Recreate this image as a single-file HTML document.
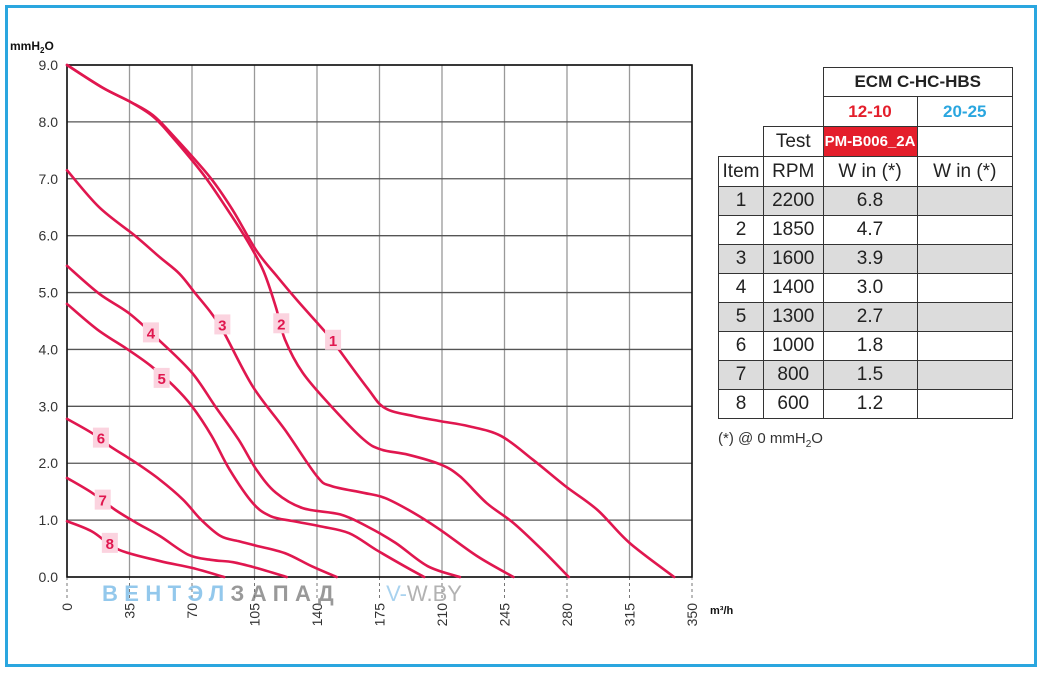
<!DOCTYPE html>
<html><head><meta charset="utf-8"><style>
body{margin:0;background:#fff;width:1042px;height:673px;overflow:hidden;font-family:"Liberation Sans",sans-serif;}
#frame{position:absolute;left:5px;top:5px;width:1026px;height:656px;border:3px solid #2aa6df;}
table{position:absolute;border-collapse:collapse;font-family:"Liberation Sans",sans-serif;}
td{border:1.5px solid #333;text-align:center;font-size:19px;color:#222;padding:0;height:28px;}
</style></head><body>
<div id="frame"></div>
<svg id="chart" width="1042" height="673" style="position:absolute;left:0;top:0"></svg>
<div style="position:absolute;left:718px;top:67px">
<table style="left:0;top:0;width:295px">
<tr style="height:28px"><td style="border:none;width:45px"></td><td style="border:none;width:59px"></td><td colspan="2" style="font-weight:bold;font-size:17px">ECM C-HC-HBS</td></tr>
<tr style="height:30px"><td style="border:none"></td><td style="border:none"></td><td style="width:93px;color:#e41e2b;font-weight:bold;font-size:17px">12-10</td><td style="color:#2aa6df;font-weight:bold;font-size:17px">20-25</td></tr>
<tr style="height:30px"><td style="border:none;border-bottom:1.5px solid #333"></td><td>Test</td><td style="background:#e41e2b;color:#fff;font-weight:bold;font-size:15px">PM-B006_2A</td><td></td></tr>
<tr style="height:30px"><td>Item</td><td>RPM</td><td>W in (*)</td><td>W in (*)</td></tr>
<tr style="background:#dcdcdc"><td>1</td><td>2200</td><td>6.8</td><td></td></tr>
<tr><td>2</td><td>1850</td><td>4.7</td><td></td></tr>
<tr style="background:#dcdcdc"><td>3</td><td>1600</td><td>3.9</td><td></td></tr>
<tr><td>4</td><td>1400</td><td>3.0</td><td></td></tr>
<tr style="background:#dcdcdc"><td>5</td><td>1300</td><td>2.7</td><td></td></tr>
<tr><td>6</td><td>1000</td><td>1.8</td><td></td></tr>
<tr style="background:#dcdcdc"><td>7</td><td>800</td><td>1.5</td><td></td></tr>
<tr><td>8</td><td>600</td><td>1.2</td><td></td></tr>
</table>
</div>
<div style="position:absolute;left:718px;top:430px;font-size:15px;color:#333">(*) @ 0 mmH<sub style="font-size:10px">2</sub>O</div>
<div style="position:absolute;left:102px;top:581px;font-size:22px;font-weight:bold;letter-spacing:6.4px;opacity:0.75;white-space:nowrap"><span style="color:#6fb6e6">ВЕНТЭЛ</span><span style="color:#777">ЗАПАД</span><span style="color:#8cc4ea;font-weight:normal;letter-spacing:0;margin-left:46px">V-</span><span style="color:#999;font-weight:normal;letter-spacing:0">W.BY</span></div>
<script>
const xTicks=[0,35,70,105,140,175,210,245,280,315,350];
const yTicks=[0,1,2,3,4,5,6,7,8,9];
const c1x=[0,20,35,48,60,80,93,106,118,129,144,148,168,178,194,209,225,243,261,279,297,315,340];
const c1y=[9.0,8.6,8.36,8.12,7.74,7.03,6.44,5.74,5.27,4.86,4.33,4.18,3.33,2.97,2.83,2.74,2.65,2.48,2.06,1.6,1.18,0.6,0];
const c2x=[0,20,35,48,58,76,89,101,110,117,122,132,148,166,176,191,209,220,235,250,266,281];
const c2y=[9.0,8.6,8.36,8.1,7.77,7.09,6.5,5.91,5.38,4.74,4.18,3.59,3.0,2.42,2.24,2.15,1.98,1.77,1.3,0.95,0.48,0];
const c3x=[0,18,38,52,63,72,81,88,104,122,140,148,166,178,194,209,230,250];
const c3y=[7.15,6.5,6.0,5.62,5.33,4.98,4.63,4.29,3.35,2.59,1.77,1.6,1.48,1.39,1.13,0.83,0.36,0];
const c4x=[0,18,35,52,70,83,96,106,117,132,153,168,184,202,220];
const c4y=[5.47,4.98,4.63,4.15,3.59,3.0,2.42,1.89,1.48,1.21,1.1,0.89,0.6,0.19,0];
const c5x=[0,17,34,47,60,70,81,91,104,114,127,142,158,173,189,200];
const c5y=[4.8,4.35,4.0,3.71,3.35,3.0,2.48,1.89,1.3,1.07,0.98,0.89,0.77,0.48,0.19,0];
const c6x=[0,14,24,39,52,65,75,86,96,106,122,137,151];
const c6y=[2.78,2.53,2.3,2.0,1.71,1.36,1.01,0.72,0.63,0.55,0.42,0.19,0];
const c7x=[0,14,27,39,52,68,81,93,106,123];
const c7y=[1.74,1.48,1.18,0.95,0.72,0.39,0.3,0.26,0.16,0];
const c8x=[0,14,29,52,70,88];
const c8y=[0.98,0.8,0.48,0.28,0.16,0];
const seriesX=[c1x,c2x,c3x,c4x,c5x,c6x,c7x,c8x];
const seriesY=[c1y,c2y,c3y,c4y,c5y,c6y,c7y,c8y];
const labelNames=["1","2","3","4","5","6","7","8"];
const labelX=[149,120,87,47,53,19,20,24];
const labelY=[4.17,4.46,4.44,4.3,3.5,2.45,1.36,0.6];
const X0=67,X1=692,Y0=577,Y1=65;
const sx=v=>X0+v/350*(X1-X0), sy=v=>Y0-v/9*(Y0-Y1);
const svg=document.getElementById('chart');const NS='http://www.w3.org/2000/svg';
function mk(t,a,txt){const e=document.createElementNS(NS,t);for(const k in a)e.setAttribute(k,a[k]);if(txt!=null)e.textContent=txt;svg.appendChild(e);return e;}
function smooth(P){let d='M'+P[0][0]+','+P[0][1];for(let i=0;i<P.length-1;i++){const p0=P[Math.max(0,i-1)],p1=P[i],p2=P[i+1],p3=P[Math.min(P.length-1,i+2)];
 const c1=[p1[0]+(p2[0]-p0[0])/6,p1[1]+(p2[1]-p0[1])/6],c2=[p2[0]-(p3[0]-p1[0])/6,p2[1]-(p3[1]-p1[1])/6];
 d+=` C${c1[0]},${c1[1]} ${c2[0]},${c2[1]} ${p2[0]},${p2[1]}`;}return d;}
xTicks.forEach(v=>{const x=sx(v);
 const g=mk('line',{x1:x,x2:x,y1:Y1,y2:Y0,stroke:'#999','stroke-width':1.3});
 
 const d=mk('line',{x1:x,x2:x,y1:Y0,y2:Y0+22,stroke:'#777','stroke-width':1,'stroke-dasharray':'3,3'});
 
 const t=mk('text',{x:0,y:0,transform:`translate(${x+5},${Y0+26}) rotate(-90)`,'text-anchor':'end','font-size':14,fill:'#333'},String(v));
 });
yTicks.forEach(v=>{const y=sy(v);
 const g=mk('line',{x1:X0,x2:X1,y1:y,y2:y,stroke:'#555','stroke-width':1.3});
 
 const t=mk('text',{x:58,y:y+5,'text-anchor':'end','font-size':14,fill:'#333'},v.toFixed(1));
 });
const b=mk('rect',{x:X0,y:Y1,width:X1-X0,height:Y0-Y1,fill:'none',stroke:'#111','stroke-width':1.6});

const yt=mk('text',{x:10,y:50,'font-size':12,'font-weight':'bold',fill:'#111'});

yt.innerHTML='mmH<tspan dy="3" font-size="8">2</tspan><tspan dy="-3">O</tspan>';
const xt=mk('text',{x:710,y:614,'font-size':11,'font-weight':'bold',fill:'#111'},'m³/h');

seriesX.forEach((xs,i)=>{const P=xs.map((v,j)=>[sx(v),sy(seriesY[i][j])]);
 const p=mk('path',{d:smooth(P),fill:'none',stroke:'#e0174f','stroke-width':2.6,'stroke-linejoin':'round','stroke-linecap':'round'});
 });
labelNames.forEach((n,i)=>{const x=sx(labelX[i]),y=sy(labelY[i]);
 const r=mk('rect',{x:x-8,y:y-10,width:16,height:20,fill:'#fbd3df'});
 
 const t=mk('text',{x:x,y:y+6,'text-anchor':'middle','font-size':15,'font-weight':'bold',fill:'#e0174f'},n);
 });
</script>
</body></html>
